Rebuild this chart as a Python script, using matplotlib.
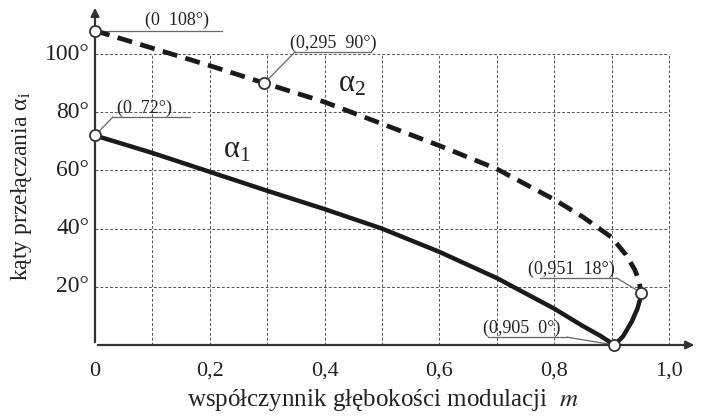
import numpy as np
import matplotlib.pyplot as plt

# data
M1 = [0, 0.1, 0.2, 0.3, 0.4, 0.5, 0.6, 0.7, 0.8, 0.85, 0.88, 0.905,
      0.92, 0.935, 0.945, 0.95, 0.951]
A1 = [72, 66, 59.5, 53, 46.7, 40, 32, 23, 12.5, 6.5, 3.2, 0,
      3, 8, 12.5, 16, 18]
M2 = [0, 0.1, 0.2, 0.295, 0.4, 0.5, 0.6, 0.7, 0.8, 0.85, 0.9, 0.925,
      0.94, 0.948, 0.951]
A2 = [108, 102, 96, 90, 83.5, 76, 68.5, 60.5, 50, 44, 37, 31, 26, 22, 18]

# marked points and their labels
PTS_M = [0, 0.295, 0, 0.905, 0.951]
PTS_A = [108, 90, 72, 0, 18]
PTS_TXT = ['(0  108°)', '(0,295  90°)', '(0  72°)', '(0,905  0°)',
           '(0,951  18°)']

XTICKS = [0, 0.2, 0.4, 0.6, 0.8, 1.0]
XLABELS = ['0', '0,2', '0,4', '0,6', '0,8', '1,0']
YTICKS = [20, 40, 60, 80, 100]
YLABELS = ['20°', '40°', '60°', '80°', '100°']

plt.rcParams['font.family'] = ['Liberation Serif', 'DejaVu Serif']
plt.rcParams['mathtext.fontset'] = 'stix'

W, H = 701, 418
fig = plt.figure(figsize=(W / 100, H / 100), dpi=100)
# axes in pixel terms: x 0 -> 95 px, 1.0 -> 669 px; y 0 -> 345 px, 100 -> 54 px
x0, y0 = 95, 345
sx, sy = 574., 2.91
xmax = (697 - x0) / sx
ymax = (y0 - 5) / sy
ax = fig.add_axes([x0 / W, (H - y0) / H, (697 - x0) / W, (y0 - 5) / H])
ax.set_xlim(0, xmax)
ax.set_ylim(0, ymax)
for s in ax.spines.values():
    s.set_visible(False)

# grid
gkw = dict(color='#555555', lw=0.7, ls=(0, (3, 2)), zorder=1)
ax.vlines(np.arange(1, 11) / 10., 0, 100, **gkw)
ax.hlines(YTICKS, 0, 1.0, **gkw)

# axes with arrows
akw = dict(arrowstyle='-|>', color='#333333', lw=1.6, mutation_scale=12)
ax.annotate('', xy=(xmax, 0), xytext=(0, 0), arrowprops=akw,
            annotation_clip=False, zorder=3)
ax.annotate('', xy=(0, ymax), xytext=(0, 0), arrowprops=akw,
            annotation_clip=False, zorder=3)

# curves
ax.plot(M1, A1, color='#1a1a1a', lw=3.2, solid_capstyle='round', zorder=4)
ax.plot(M2, A2, color='#1a1a1a', lw=3.4, dashes=(3.2, 1.8), zorder=4)
ax.plot(PTS_M, PTS_A, 'o', ms=8, mfc='white', mec='#333333', mew=1.3,
        clip_on=False, zorder=6)

# labels of the points: text, underline
# (text x, text baseline, line start x, line end x, line y) in data units
LBL = [(0.087, 110.0, 0.0, 0.222, 108.0),
       (0.34, 102.2, 0.348, 0.48, 100.6),
       (0.038, 79.8, 0.031, 0.166, 78.3),
       (0.676, 4.2, 0.685, 0.822, 2.7),
       (0.754, 24.3, 0.775, 0.909, 23.0)]
lkw = dict(color='#666666', lw=0.9, zorder=2)
for (tx, ty, l0, l1, ly), txt in zip(LBL, PTS_TXT):
    ax.text(tx, ty, txt, fontsize=13, ha='left', va='baseline',
            color='#222222')
    ax.plot([l0, l1], [ly, ly], **lkw)
# leaders from the circles to the underlines
ax.plot([0.0, 0.031], [72, 78.3], **lkw)
ax.plot([0.295, 0.348], [90, 100.6], **lkw)
ax.plot([0.822, 0.905], [2.7, 0], **lkw)
ax.plot([0.909, 0.951], [23.0, 18], **lkw)

# curve names
ax.text(0.423, 87, r'$\mathregular{\alpha_2}$', fontsize=22, ha='left',
        va='baseline', color='#222222')
ax.text(0.223, 64.6, r'$\mathregular{\alpha_1}$', fontsize=22, ha='left',
        va='baseline', color='#222222')

# tick labels
for xt, xl in zip(XTICKS, XLABELS):
    ax.text(xt, -9.0, xl, fontsize=16, ha='center', va='center',
            color='#222222')
for yt, yl in zip(YTICKS, YLABELS):
    ax.text(-0.01, yt, yl, fontsize=17, ha='right', va='center',
            color='#222222')
ax.set_xticks([])
ax.set_yticks([])

# axis titles
fig.text(383 / W, 1 - 400 / H,
         'współczynnik głębokości modulacji  $\\it{m}$',
         fontsize=18, ha='center', va='center', color='#222222')
fig.text(22 / W, 1 - 186 / H, 'kąty przełączania $\\mathregular{\\alpha_i}$',
         fontsize=17, ha='center', va='center', rotation=90,
         color='#222222')

fig.savefig('out.png', dpi=100)
